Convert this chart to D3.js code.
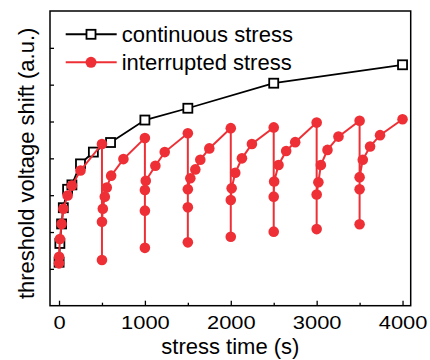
<!DOCTYPE html>
<html><head><meta charset="utf-8">
<script src="https://cdn.jsdelivr.net/npm/d3@7"></script>
<style>body{margin:0;background:#fff} svg{display:block} text{font-family:"Liberation Sans",Arial,Helvetica,sans-serif}</style>
</head><body><svg id="c" width="430" height="360"></svg>
<script>
// ---- data ----
const contTime  = [1, 10, 30, 50, 100, 150, 250, 400, 600, 1000, 1500, 2500, 4000];
const contShift = [1.18, 1.69, 2.22, 2.66, 3.16, 3.28, 3.85, 4.17, 4.43, 5.04, 5.36, 6.04, 6.54];

const intTime  = [0, 1, 10, 30, 50, 100, 150, 250, 500,
                  500, 500, 510, 533, 556, 607, 750, 1000,
                  1000, 1000, 1000, 1010, 1122, 1231, 1500,
                  1500, 1500, 1500, 1529, 1587, 1645, 1750, 2000,
                  2000, 2000, 2010, 2052, 2130, 2246, 2500,
                  2500, 2500, 2505, 2556, 2645, 2750, 3000,
                  3000, 3000, 3020, 3049, 3126, 3254, 3500,
                  3500, 3500, 3500, 3537, 3622, 3738, 4000];
const intShift = [1.15, 1.33, 1.81, 2.22, 2.63, 2.99, 3.26, 3.67, 4.39,
                  1.24, 2.28, 2.63, 2.96, 3.21, 3.53, 3.98, 4.55,
                  1.57, 2.58, 3.14, 3.39, 3.80, 4.17, 4.68,
                  1.72, 2.67, 3.16, 3.46, 3.70, 3.96, 4.27, 4.82,
                  1.87, 2.87, 3.19, 3.61, 4.00, 4.39, 4.84,
                  2.01, 2.96, 3.37, 3.82, 4.20, 4.44, 4.97,
                  2.08, 3.02, 3.35, 3.82, 4.23, 4.59, 5.02,
                  2.21, 3.16, 3.49, 3.96, 4.32, 4.63, 5.06];

const xTicks = [0, 1000, 2000, 3000, 4000];
const xMinorTicks = [500, 1500, 2500, 3500];
const yTicks = [1, 2, 3, 4, 5, 6, 7];
const seriesNames = ["continuous stress", "interrupted stress"];
const xTitle = "stress time (s)";
const yTitle = "threshold voltage shift (a.u.)";

// ---- layout ----
const L = 50, T = 11, R = 410.7, B = 305.7;
const RED = "#ee3036";
const svg = d3.select("#c");

const x = d3.scaleLinear().domain([-105, 4095]).range([L, R]);
const y = d3.scaleLinear().domain([0, 8]).range([B, T]);

// axes
const gx = svg.append("g").attr("transform", `translate(0,${B})`)
  .call(d3.axisBottom(x).tickValues(xTicks).tickSize(-5).tickPadding(11).tickFormat(d3.format("d")));
gx.select(".domain").remove();
gx.selectAll(".tick line").attr("stroke", "#000").attr("stroke-width", 1.3);
gx.selectAll(".tick text").attr("font-size", 17.5).attr("fill", "#000")
  .attr("font-family", '"Liberation Sans",Arial,sans-serif')
  .attr("transform", "scale(1.25,1)");

const gxm = svg.append("g").attr("transform", `translate(0,${B})`)
  .call(d3.axisBottom(x).tickValues(xMinorTicks).tickSize(-3).tickFormat(""));
gxm.select(".domain").remove();
gxm.selectAll(".tick line").attr("stroke", "#000").attr("stroke-width", 1.3);

const gy = svg.append("g").attr("transform", `translate(${L},0)`)
  .call(d3.axisLeft(y).tickValues(yTicks).tickSize(-4).tickFormat(""));
gy.select(".domain").remove();
gy.selectAll(".tick line").attr("stroke", "#000").attr("stroke-width", 1.3);

// frame
svg.append("rect").attr("x", L).attr("y", T).attr("width", R - L).attr("height", B - T)
  .attr("fill", "none").attr("stroke", "#000").attr("stroke-width", 1.5);

// titles
svg.append("text").attr("x", (L + R) / 2).attr("y", 354).attr("text-anchor", "middle")
  .attr("font-size", 22).attr("fill", "#000").text(xTitle);
svg.append("text").attr("transform", `translate(34,${(T + B) / 2 + 5}) rotate(-90)`)
  .attr("text-anchor", "middle").attr("font-size", 22).attr("fill", "#000").text(yTitle);

// continuous series
const cont = contTime.map((t, i) => [t, contShift[i]]);
const line = d3.line().x(d => x(d[0])).y(d => y(d[1]));
svg.append("path").datum(cont).attr("d", line).attr("fill", "none")
  .attr("stroke", "#000").attr("stroke-width", 1.8);
svg.append("g").selectAll("rect").data(cont).join("rect")
  .attr("x", d => x(d[0]) - 4.5).attr("y", d => y(d[1]) - 4.5)
  .attr("width", 9).attr("height", 9)
  .attr("fill", "#fff").attr("stroke", "#000").attr("stroke-width", 1.8);

// interrupted series
const intr = intTime.map((t, i) => [t, intShift[i]]);
svg.append("path").datum(intr).attr("d", line).attr("fill", "none")
  .attr("stroke", RED).attr("stroke-width", 2);
svg.append("g").selectAll("circle").data(intr).join("circle")
  .attr("cx", d => x(d[0])).attr("cy", d => y(d[1])).attr("r", 5.3).attr("fill", RED);

// legend
const leg = svg.append("g");
const rows = [{y: 34.3, color: "#000", sym: "square"}, {y: 62.3, color: RED, sym: "circle"}];
rows.forEach((r, i) => {
  leg.append("line").attr("x1", 65.7).attr("x2", 116.7).attr("y1", r.y).attr("y2", r.y)
    .attr("stroke", r.color).attr("stroke-width", 2);
  if (r.sym === "square") {
    leg.append("rect").attr("x", 91 - 4.5).attr("y", r.y - 4.5).attr("width", 9).attr("height", 9)
      .attr("fill", "#fff").attr("stroke", "#000").attr("stroke-width", 1.8);
  } else {
    leg.append("circle").attr("cx", 91).attr("cy", r.y).attr("r", 5.5).attr("fill", RED);
  }
  leg.append("text").attr("x", 121.7).attr("y", r.y + 7.3).attr("font-size", 22)
    .attr("fill", "#000").text(seriesNames[i]);
});
</script></body></html>
